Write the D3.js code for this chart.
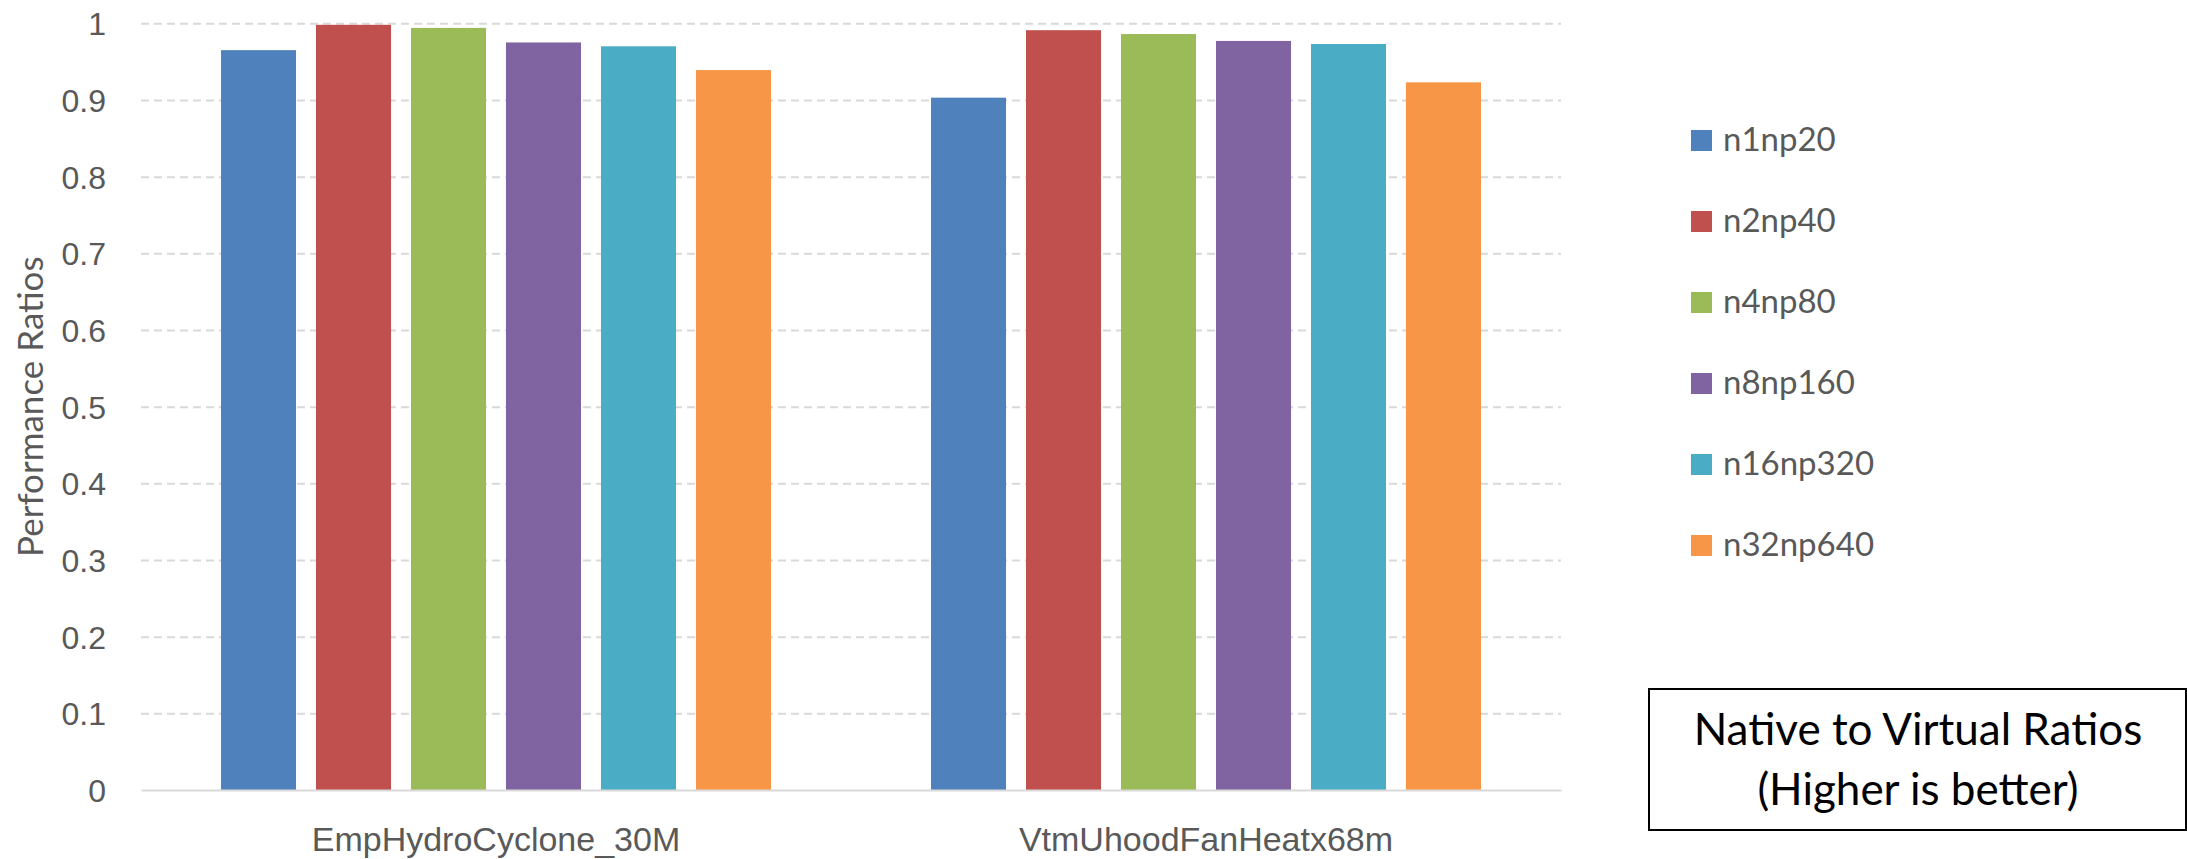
<!DOCTYPE html>
<html>
<head>
<meta charset="utf-8">
<script src="https://cdn.jsdelivr.net/npm/d3@7"></script>
<style>
  body { margin: 0; background: #fff; }
  svg { display: block; font-family: Lato, "Open Sans", sans-serif; }
</style>
</head>
<body>
<div id="chart"></div>
<script>
// chart values
var categories = ["EmpHydroCyclone_30M", "VtmUhoodFanHeatx68m"];
var seriesNames = ["n1np20", "n2np40", "n4np80", "n8np160", "n16np320", "n32np640"];
var empHydroValues = [0.965, 0.998, 0.994, 0.975, 0.970, 0.939];
var vtmUhoodValues = [0.903, 0.991, 0.986, 0.977, 0.973, 0.923];
var yTicks = [0, 0.1, 0.2, 0.3, 0.4, 0.5, 0.6, 0.7, 0.8, 0.9, 1];
var yTickLabels = ["0", "0.1", "0.2", "0.3", "0.4", "0.5", "0.6", "0.7", "0.8", "0.9", "1"];
var seriesColors = ["#4F81BD", "#C0504D", "#9BBB59", "#8064A2", "#4BACC6", "#F79646"];
var yTitle = "Performance Ratios";
var boxLines = ["Native to Virtual Ratios", "(Higher is better)"];

var W = 2187, H = 859;
var plot = { left: 141, right: 1561, top: 23.3, bottom: 790 };

var rows = categories.map(function (c, i) {
  return { cat: c, values: [empHydroValues, vtmUhoodValues][i] };
});

var svg = d3.select("#chart").append("svg")
  .attr("width", W)
  .attr("height", H);

var x0 = d3.scaleBand()
  .domain(categories)
  .range([plot.left, plot.right])
  .padding(0);

var x1 = d3.scaleBand()
  .domain(seriesNames)
  .range([0, x0.bandwidth()])
  .paddingInner(0.21)
  .paddingOuter(0.842);

var y = d3.scaleLinear()
  .domain([0, 1])
  .range([plot.bottom, plot.top]);

var color = d3.scaleOrdinal().domain(seriesNames).range(seriesColors);

// y axis with dashed gridlines
var yAxis = svg.append("g")
  .attr("transform", "translate(" + plot.left + ",0)")
  .call(d3.axisLeft(y)
    .tickValues(yTicks)
    .tickFormat(function (d, i) { return yTickLabels[i]; })
    .tickSize(-(plot.right - plot.left))
    .tickPadding(35));
yAxis.select(".domain").remove();
yAxis.selectAll(".tick line")
  .attr("stroke", "#D9D9D9")
  .attr("stroke-width", 2)
  .attr("stroke-dasharray", "8,5")
  .filter(function (d) { return d === 0; }).remove();
yAxis.selectAll(".tick text")
  .attr("fill", "#595959")
  .style("font-size", "32px")
  .attr("dy", "0.36em");

// bars
var groups = svg.append("g").selectAll("g")
  .data(rows)
  .join("g")
  .attr("transform", function (d) { return "translate(" + x0(d.cat) + ",0)"; });

groups.selectAll("rect")
  .data(function (d) {
    return d.values.map(function (v, i) { return { key: seriesNames[i], value: v }; });
  })
  .join("rect")
  .attr("x", function (d) { return x1(d.key); })
  .attr("y", function (d) { return y(d.value); })
  .attr("width", x1.bandwidth())
  .attr("height", function (d) { return y(0) - y(d.value); })
  .attr("fill", function (d) { return color(d.key); });

// x axis baseline + labels
var xAxis = svg.append("g")
  .attr("transform", "translate(0," + plot.bottom + ")")
  .call(d3.axisBottom(x0).tickSize(0));
xAxis.select(".domain")
  .attr("stroke", "#D9D9D9")
  .attr("stroke-width", 2);
xAxis.selectAll(".tick text")
  .attr("fill", "#595959")
  .style("font-size", "34px")
  .attr("y", 61)
  .attr("dy", 0);

// y axis title
svg.append("text")
  .attr("transform", "translate(43," + ((plot.top + plot.bottom) / 2) + ") rotate(-90)")
  .attr("text-anchor", "middle")
  .attr("fill", "#595959")
  .style("font-size", "35px")
  .text(yTitle);

// legend
var legend = svg.append("g").selectAll("g")
  .data(seriesNames)
  .join("g")
  .attr("transform", function (d, i) { return "translate(1691," + (130 + i * 81) + ")"; });
legend.append("rect")
  .attr("width", 21)
  .attr("height", 21)
  .attr("fill", function (d) { return color(d); });
legend.append("text")
  .attr("x", 32)
  .attr("y", 21)
  .attr("fill", "#595959")
  .style("font-size", "33px")
  .text(function (d) { return d; });

// note box
var box = svg.append("g");
box.append("rect")
  .attr("x", 1649)
  .attr("y", 689)
  .attr("width", 537)
  .attr("height", 141)
  .attr("fill", "#fff")
  .attr("stroke", "#000")
  .attr("stroke-width", 2);
box.selectAll("text")
  .data(boxLines)
  .join("text")
  .attr("x", 1918)
  .attr("y", function (d, i) { return 745 + i * 60; })
  .attr("text-anchor", "middle")
  .attr("fill", "#000")
  .style("font-size", "44px")
  .text(function (d) { return d; });
</script>
</body>
</html>
